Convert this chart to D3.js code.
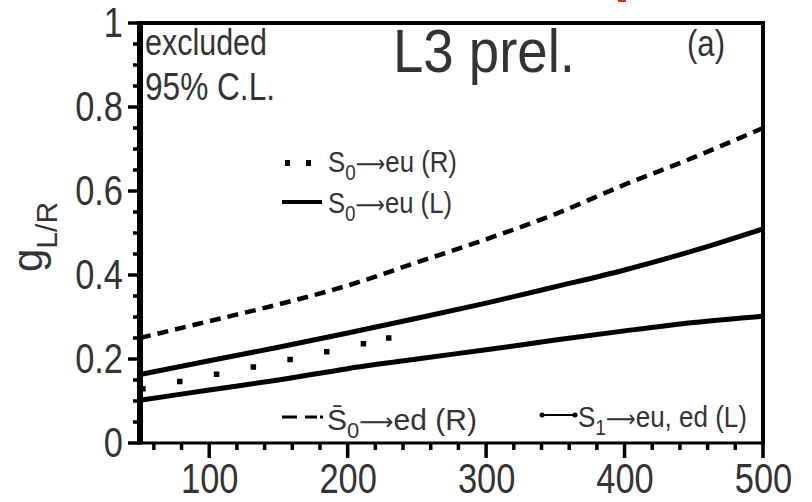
<!DOCTYPE html>
<html>
<head>
<meta charset="utf-8">
<script src="https://cdn.jsdelivr.net/npm/d3@7"></script>
<style>
  body { margin: 0; background: #fff; }
  svg text { font-family: "Liberation Sans", Arial, sans-serif; fill: #333; }
</style>
</head>
<body>
<div id="chart"></div>
<script>
// masses (GeV) and coupling limits
var masses = [50, 100, 150, 200, 250, 300, 350, 400, 450, 500];
var sbar0EdR = [0.25, 0.29, 0.33, 0.375, 0.43, 0.485, 0.545, 0.615, 0.68, 0.75];
var s0EuL = [0.163, 0.196, 0.228, 0.262, 0.297, 0.333, 0.372, 0.412, 0.458, 0.51];
var s1L = [0.102, 0.126, 0.15, 0.177, 0.2, 0.222, 0.245, 0.267, 0.287, 0.302];
var s0EuRMasses = [50, 100, 150, 200, 230];
var s0EuR = [0.128, 0.16, 0.193, 0.228, 0.25];

var xMajor = [100, 200, 300, 400, 500];
var yMajor = [0, 0.2, 0.4, 0.6, 0.8, 1];

var W = 812, H = 502;
var margin = { top: 23, right: 49, bottom: 59, left: 140 };
var width = W - margin.left - margin.right,
    height = H - margin.top - margin.bottom;

var svg = d3.select("#chart").append("svg")
    .attr("width", W)
    .attr("height", H);

// small red remnant at the top edge
svg.append("rect").attr("x", 618).attr("y", 0).attr("width", 8).attr("height", 2).attr("fill", "#e8261c");

var g = svg.append("g").attr("transform", "translate(" + margin.left + "," + margin.top + ")");

var x = d3.scaleLinear().domain([50, 500]).range([0, width]);
var y = d3.scaleLinear().domain([0, 1]).range([height, 0]);

// tick labels from d3 axes
g.append("g").attr("class", "ax").attr("transform", "translate(0," + height + ")")
    .call(d3.axisBottom(x).tickValues(xMajor).tickSizeInner(0).tickSizeOuter(0).tickPadding(20).tickFormat(d3.format("d")));
g.append("g").attr("class", "ax")
    .call(d3.axisLeft(y).tickValues(yMajor).tickSizeInner(0).tickSizeOuter(0).tickPadding(17).tickFormat(d3.format("")));

g.selectAll(".ax .domain").remove();
g.selectAll(".ax .tick text")
    .style("font-size", "42px")
    .attr("fill", "#333")
    .each(function () {
        // condensed digits like the scanned original
        var t = d3.select(this);
        t.attr("x", (+t.attr("x") || 0) / 0.82).attr("transform", "scale(0.82,1)");
    });

var xMinor = d3.range(60, 501, 20).filter(function (d) { return d % 100 !== 0; });
var yMinor = d3.range(0.05, 1, 0.05).filter(function (d) { return Math.abs(d * 5 - Math.round(d * 5)) > 1e-6; });

// tick marks as filled rects, pointing outward
var ticks = g.append("g").attr("class", "tickmarks");
ticks.selectAll("rect.xt")
    .data(xMajor.map(function (d) { return [d, 15]; }).concat(xMinor.map(function (d) { return [d, 7]; })))
    .enter().append("rect")
    .attr("class", "xt")
    .attr("x", function (d) { return x(d[0]) - 1.75; })
    .attr("y", height)
    .attr("width", 3.5)
    .attr("height", function (d) { return d[1]; })
    .attr("fill", "#000");
ticks.selectAll("rect.yt")
    .data(yMajor.map(function (d) { return [d, 12]; }).concat(yMinor.map(function (d) { return [d, 7]; })))
    .enter().append("rect")
    .attr("class", "yt")
    .attr("x", function (d) { return -d[1]; })
    .attr("y", function (d) { return y(d[0]) - 1.75; })
    .attr("width", function (d) { return d[1]; })
    .attr("height", 3.5)
    .attr("fill", "#000");

// frame
g.append("line").attr("x1", 0).attr("x2", 0).attr("y1", -2).attr("y2", height + 1.5).attr("stroke", "#000").attr("stroke-width", 6);
g.append("line").attr("x1", -3).attr("x2", width + 2).attr("y1", 0).attr("y2", 0).attr("stroke", "#000").attr("stroke-width", 4);
g.append("line").attr("x1", width).attr("x2", width).attr("y1", -2).attr("y2", height + 1.5).attr("stroke", "#000").attr("stroke-width", 4);
g.append("line").attr("x1", -3).attr("x2", width + 2).attr("y1", height).attr("y2", height).attr("stroke", "#000").attr("stroke-width", 3);

// curves
var line = d3.line()
    .x(function (d) { return x(d[0]); })
    .y(function (d) { return y(d[1]); })
    .curve(d3.curveMonotoneX);

var curves = [
    { xs: masses, ys: sbar0EdR, width: 4.5, dash: "11,7", cap: "butt" },
    { xs: masses, ys: s0EuL, width: 5, dash: null, cap: "butt" },
    { xs: masses, ys: s1L, width: 5, dash: null, cap: "butt" },
    { xs: s0EuRMasses, ys: s0EuR, width: 5.5, dash: "dots", cap: "square" }
];

var plot = g.append("g");
curves.forEach(function (c) {
    var p = plot.append("path")
        .datum(c.xs.map(function (m, i) { return [m, c.ys[i]]; }))
        .attr("d", line)
        .attr("fill", "none")
        .attr("stroke", "#000")
        .attr("stroke-width", c.width)
        .attr("stroke-linecap", c.cap);
    if (c.dash === "dots") {
        // square dots every ~37.5px, with a last one at the end of the curve
        var L = p.node().getTotalLength();
        var arr = [0, 3];
        var pos = 3;
        while (pos + 37.5 < L - 12) { arr.push(0, 37.5); pos += 37.5; }
        arr.push(0, L - pos - 0.5, 0, 2000);
        p.attr("stroke-dasharray", arr.join(","));
    } else if (c.dash) {
        p.attr("stroke-dasharray", c.dash);
    }
});

// plain labels squeezed to the measured widths
function label(txt, px, py, size, w) {
    var t = svg.append("text").attr("x", px).attr("y", py).style("font-size", size + "px").text(txt);
    t.attr("textLength", w).attr("lengthAdjust", "spacingAndGlyphs");
    return t;
}
label("excluded", 145, 55, 36, 122);
label("95% C.L.", 145, 100, 38, 130);
label("L3 prel.", 393, 72, 61, 182);
label("(a)", 687, 56, 37, 38);

// y title
var yt = svg.append("text").attr("transform", "translate(42,272) rotate(-90)");
yt.append("tspan").style("font-size", "42px").text("g");
yt.append("tspan").style("font-size", "30px").attr("dy", 15).text("L/R");

// legend entries: text scaled horizontally to the reference width
function legendText(px, py, w, main, sub, rest) {
    var lg = svg.append("g").attr("transform", "translate(" + px + "," + py + ")");
    var t = lg.append("text").style("font-size", "30px");
    t.append("tspan").text(main);
    t.append("tspan").style("font-size", "22px").attr("dy", 8).text(sub);
    t.append("tspan").attr("dy", -8).style("font-family", "'DejaVu Sans'").style("font-size", "24px").text("\u27F6");
    t.append("tspan").text(rest);
    var bw = t.node().getBBox().width;
    lg.attr("transform", "translate(" + px + "," + py + ") scale(" + (w / bw) + ",1)");
}

svg.append("line").attr("x1", 285).attr("x2", 312).attr("y1", 163).attr("y2", 163)
    .attr("stroke", "#000").attr("stroke-width", 6).attr("stroke-dasharray", "5,16");
legendText(328, 172, 129, "S", "0", "eu (R)");

svg.append("line").attr("x1", 282).attr("x2", 322).attr("y1", 202).attr("y2", 202)
    .attr("stroke", "#000").attr("stroke-width", 4);
legendText(328, 213, 124, "S", "0", "eu (L)");

svg.append("line").attr("x1", 282).attr("x2", 323).attr("y1", 417).attr("y2", 417)
    .attr("stroke", "#000").attr("stroke-width", 3).attr("stroke-dasharray", "15,8,12,3,3,50");
legendText(327, 430, 150, "S\u0304", "0", "ed (R)");

svg.append("line").attr("x1", 541).attr("x2", 576).attr("y1", 415).attr("y2", 415)
    .attr("stroke", "#000").attr("stroke-width", 2);
svg.append("circle").attr("cx", 542).attr("cy", 415).attr("r", 2.5).attr("fill", "#000");
svg.append("circle").attr("cx", 575).attr("cy", 415).attr("r", 2.5).attr("fill", "#000");
legendText(578, 427, 169, "S", "1", "eu, ed (L)");
</script>
</body>
</html>
